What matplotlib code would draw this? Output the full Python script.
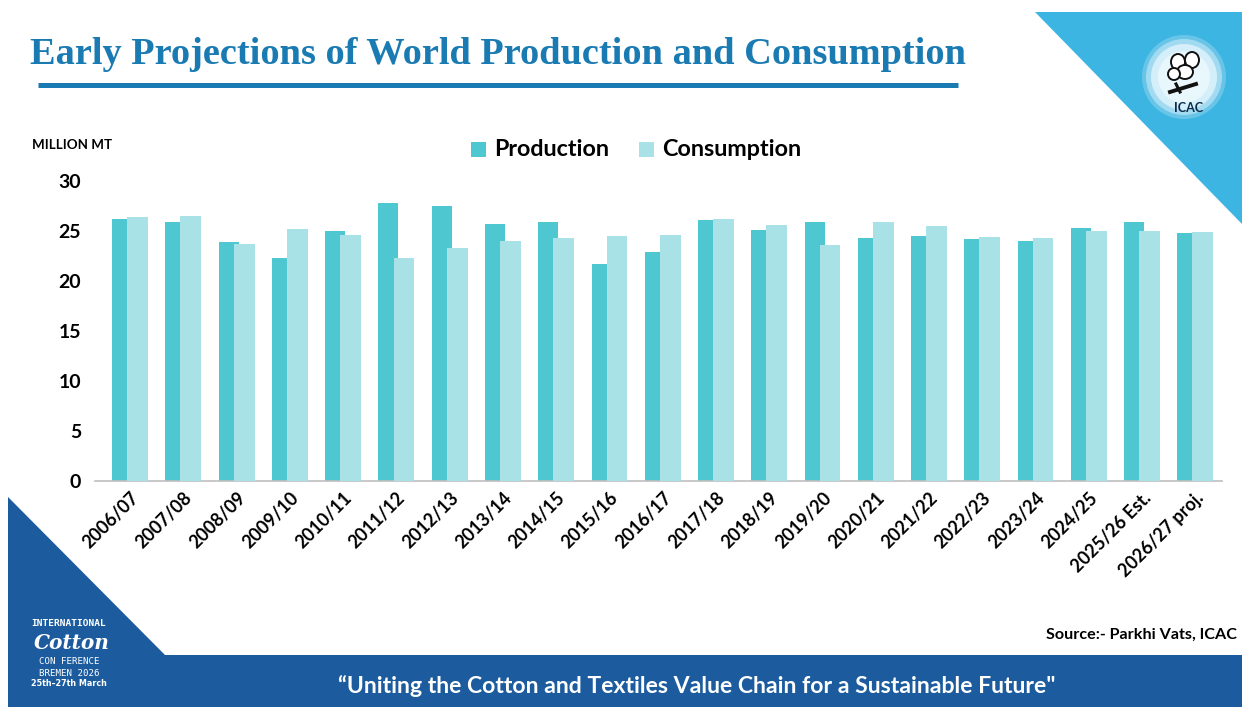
import matplotlib
matplotlib.use("Agg")
import matplotlib.pyplot as plt
from matplotlib.patches import Polygon, Circle, Rectangle, Ellipse
import numpy as np

seasons = ['2006/07', '2007/08', '2008/09', '2009/10', '2010/11', '2011/12',
           '2012/13', '2013/14', '2014/15', '2015/16', '2016/17', '2017/18',
           '2018/19', '2019/20', '2020/21', '2021/22', '2022/23', '2023/24',
           '2024/25', '2025/26 Est.', '2026/27 proj.']
production = [26.2, 25.9, 23.9, 22.3, 25.0, 27.8, 27.5, 25.7, 25.9, 21.7, 22.9,
              26.1, 25.1, 25.9, 24.3, 24.5, 24.2, 24.0, 25.3, 25.9, 24.8]
consumption = [26.4, 26.5, 23.7, 25.2, 24.6, 22.3, 23.3, 24.0, 24.3, 24.5, 24.6,
               26.2, 25.6, 23.6, 25.9, 25.5, 24.4, 24.3, 25.0, 25.0, 24.9]
yticks = [0, 5, 10, 15, 20, 25, 30]

W, H = 1242, 707
PROD_C = '#4fc7d1'
CONS_C = '#a8e2e7'
NAVY = '#1c5c9e'
SKY = '#3db5e2'
TITLE_C = '#1a7bb3'

fig = plt.figure(figsize=(W / 100, H / 100), dpi=100)

# page decoration layer, pixel coordinates
bg = fig.add_axes((0, 0, 1, 1), zorder=0)
bg.set_xlim(0, W)
bg.set_ylim(H, 0)
bg.axis('off')

bg.text(30, 54, 'Early Projections of World Production and Consumption',
        family='Liberation Serif', weight='bold', fontsize=27.6, color=TITLE_C,
        ha='left', va='center')
bg.plot([38, 958], [84.5, 84.5], color=TITLE_C, lw=3.6, solid_capstyle='butt')

# top right triangle + logo
bg.add_patch(Polygon([(1035, 12), (W, 12), (W, 224)], closed=True,
                     color=SKY, lw=0))
for r, a in [(42, 0.25), (38, 0.45), (33, 0.7), (26, 0.9), (18, 1.0)]:
    bg.add_patch(Circle((1184, 77), r, color='#eaf8fd', alpha=a, lw=0))
# crude cotton boll
for cx, cy, w, h in [(1178, 62, 14, 16), (1192, 60, 14, 16), (1185, 72, 16, 14),
                     (1174, 74, 12, 12)]:
    bg.add_patch(Ellipse((cx, cy), w, h, facecolor='white', edgecolor='#111111',
                         lw=1.4))
bg.plot([1170, 1196], [92, 84], color='#111111', lw=2.8)
bg.plot([1176, 1180], [84, 92], color='#111111', lw=2.2)
bg.text(1189, 108, 'ICAC', family='Lato', weight='bold', fontsize=9,
        color='#0e2a4a', ha='center', va='center')

# bottom band + left triangle
bg.add_patch(Polygon([(8, 497), (165, 655), (W, 655), (W, H), (8, H)],
                     closed=True, color=NAVY, lw=0))
bg.text(697, 686, '\u201cUniting the Cotton and Textiles Value Chain for a Sustainable Future"',
        family='Lato', weight='bold', fontsize=16.6, color='white',
        ha='center', va='center')
bg.text(69, 624, 'INTERNATIONAL', family='DejaVu Sans Mono', weight='bold',
        fontsize=6.8, color='white', ha='center', va='center')
bg.text(72, 643, 'Cotton', family='DejaVu Serif', weight='bold', style='italic',
        fontsize=14.5, color='white', ha='center', va='center')
bg.text(69, 662, 'CON FERENCE', family='DejaVu Sans Mono', fontsize=6.6,
        color='white', ha='center', va='center')
bg.text(69, 673, 'BREMEN 2026', family='DejaVu Sans Mono', fontsize=6.6,
        color='white', ha='center', va='center')
bg.text(69, 684, '25th\u201327th March', family='DejaVu Sans', weight='bold',
        fontsize=5.8, color='white', ha='center', va='center')

bg.text(1237, 635, 'Source:- Parkhi Vats, ICAC', family='Lato', weight='bold',
        fontsize=11.6, color='black', ha='right', va='center')
bg.text(32, 145, 'MILLION MT', family='Lato', weight='bold', fontsize=9.6,
        color='black', ha='left', va='center')

# legend
bg.add_patch(Rectangle((471, 142), 15, 15, color=PROD_C, lw=0))
bg.text(494, 149, 'Production', family='Lato', weight='bold', fontsize=16.8,
        color='black', ha='left', va='center')
bg.add_patch(Rectangle((639, 142), 15, 15, color=CONS_C, lw=0))
bg.text(662, 149, 'Consumption', family='Lato', weight='bold', fontsize=16.8,
        color='black', ha='left', va='center')

# chart
left, right, y0, y30 = 95, 1222, 481, 181
ax = fig.add_axes((left / W, 1 - y0 / H, (right - left) / W, (y0 - y30) / H),
                  zorder=1)
ax.patch.set_alpha(0)
x = np.arange(len(seasons))
ax.bar(x - 0.15, production, width=0.375, color=PROD_C, lw=0, zorder=2)
ax.bar(x + 0.14, consumption, width=0.39, color=CONS_C, lw=0, zorder=3)
ax.set_xlim(-0.66, len(seasons) - 0.5)
ax.set_ylim(0, 30)
ax.set_yticks(yticks)
ax.set_yticklabels([str(v) for v in yticks], family='Lato', weight='bold',
                   fontsize=14)
ax.set_xticks(x)
ax.set_xticklabels(seasons, rotation=45, ha='right', va='top',
                   rotation_mode='anchor', family='Lato', weight='bold',
                   fontsize=13)
ax.tick_params(axis='both', length=0)
ax.tick_params(axis='y', pad=10)
ax.tick_params(axis='x', pad=6)
for s in ['top', 'right', 'left']:
    ax.spines[s].set_visible(False)
ax.spines['bottom'].set_color('#bfbfbf')
ax.spines['bottom'].set_linewidth(1.2)

fig.savefig('out.png', dpi=100)
